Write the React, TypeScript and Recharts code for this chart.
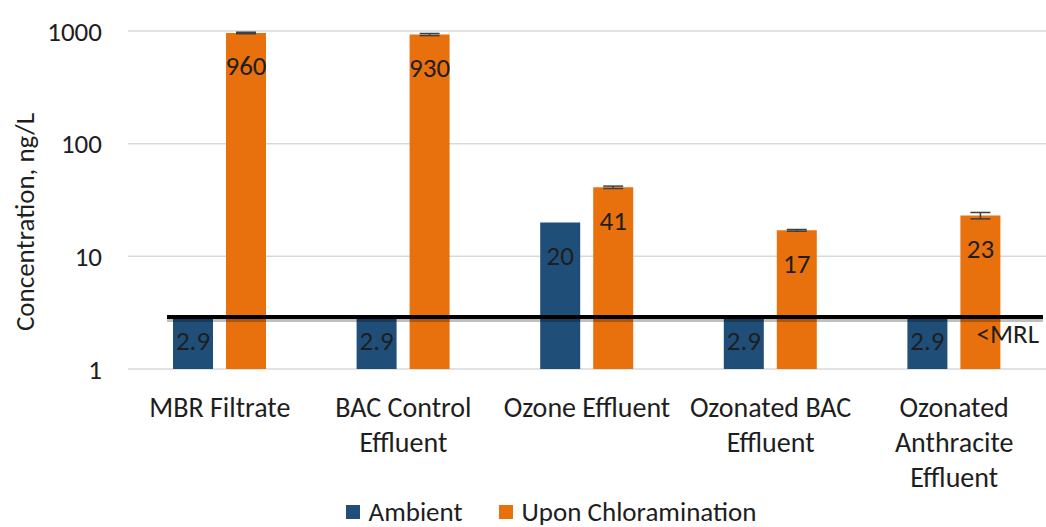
import React from 'react';
import { BarChart, Bar, XAxis, YAxis, CartesianGrid, Legend, ReferenceLine, LabelList, ErrorBar } from 'recharts';

const categories = ['MBR Filtrate', 'BAC Control Effluent', 'Ozone Effluent', 'Ozonated BAC Effluent', 'Ozonated Anthracite Effluent'];
const tickLines = [['MBR Filtrate'], ['BAC Control', 'Effluent'], ['Ozone Effluent'], ['Ozonated BAC', 'Effluent'], ['Ozonated', 'Anthracite', 'Effluent']];
const ambient = [2.9, 2.9, 20, 2.9, 2.9];
const chloramination = [960, 930, 41, 17, 23];
const chloraminationErr = [15, 20, 1, 0.3, 1.5];
const yTicks = [1, 10, 100, 1000];
const mrl = 2.9;

const FONT = 'Carlito, Lato, sans-serif';
const BLUE = '#1F4E79';
const ORANGE = '#E8700D';
const TEXT = '#1e1e1e';

const data = categories.map((name, i) => ({
  name,
  ambient: ambient[i],
  chloramination: chloramination[i],
  chloraminationErr: chloraminationErr[i],
}));

const BarValue = (props: any) => {
  const vb = props.viewBox || props;
  const { x, y, width, height } = vb;
  const cy = y + Math.min(33, height * 0.45);
  return (
    <text x={x + width / 2} y={cy} textAnchor="middle" dominantBaseline="central" fontSize={27} fill={TEXT} fontFamily={FONT}>
      {props.value}
    </text>
  );
};

const CategoryTick = (props: any) => {
  const { x, y, payload, index } = props;
  const lines = tickLines[payload.index ?? index] || [payload.value];
  return (
    <g>
      {lines.map((line: string, i: number) => (
        <text key={i} x={x} y={y + 38 + i * 35} textAnchor="middle" dominantBaseline="central" fontSize={28} fill={TEXT} fontFamily={FONT}>
          {line}
        </text>
      ))}
    </g>
  );
};

const MrlLine = (props: any) => {
  const { x1, y1, x2 } = props;
  return (
    <g>
      <line x1={x1 + 39} y1={y1 + 3} x2={x2 - 3} y2={y1 + 3} stroke="#000" strokeOpacity={0.25} strokeWidth={4} />
      <line x1={x1 + 39} y1={y1} x2={x2 - 3} y2={y1} stroke="#000" strokeWidth={4} />
    </g>
  );
};

const LegendContent = () => (
  <div style={{ height: 30, lineHeight: '30px', display: 'flex', justifyContent: 'center', alignItems: 'center', paddingLeft: 56, fontFamily: FONT, fontSize: 27, color: TEXT, whiteSpace: 'nowrap' }}>
    <span style={{ display: 'inline-block', width: 14, height: 14, background: BLUE, marginRight: 9 }} />
    <span style={{ marginRight: 36 }}>Ambient</span>
    <span style={{ display: 'inline-block', width: 14, height: 14, background: ORANGE, marginRight: 9 }} />
    <span>Upon Chloramination</span>
  </div>
);

export default function App() {
  return (
    <div style={{ position: 'absolute', left: 0, top: 0, background: '#fff' }}>
      <BarChart width={1046} height={527} data={data} margin={{ top: 31, right: 0, left: 0, bottom: 0 }} barSize={40} barGap={13}>
        <CartesianGrid vertical={false} stroke="#d9d9d9" strokeWidth={1.5} />
        <XAxis dataKey="name" axisLine={false} tickLine={false} tickSize={0} tickMargin={0} height={128} interval={0} tick={<CategoryTick />} />
        <YAxis
          scale="log"
          domain={[1, 1000]}
          ticks={yTicks}
          allowDataOverflow
          width={128}
          axisLine={false}
          tickLine={false}
          tickMargin={20}
          tick={{ fontSize: 27, fill: TEXT, fontFamily: FONT }}
          label={{
            content: () => (
              <text x={24} y={222} transform="rotate(-90, 24, 222)" textAnchor="middle" dominantBaseline="central" fontSize={27} fill={TEXT} fontFamily={FONT}>
                Concentration, ng/L
              </text>
            ),
          }}
        />
        <Legend verticalAlign="bottom" content={<LegendContent />} />
        <Bar dataKey="ambient" name="Ambient" fill={BLUE} isAnimationActive={false}>
          <LabelList dataKey="ambient" content={<BarValue />} />
        </Bar>
        <Bar dataKey="chloramination" name="Upon Chloramination" fill={ORANGE} isAnimationActive={false}>
          <ErrorBar dataKey="chloraminationErr" direction="y" width={10} stroke="#404040" strokeWidth={1.5} />
          <LabelList dataKey="chloramination" content={<BarValue />} />
        </Bar>
        <ReferenceLine
          y={mrl}
          shape={<MrlLine />}
          label={{ value: '<MRL', position: 'insideTopRight', offset: 7, fontSize: 27, fill: TEXT, fontFamily: FONT }}
        />
      </BarChart>
    </div>
  );
}
